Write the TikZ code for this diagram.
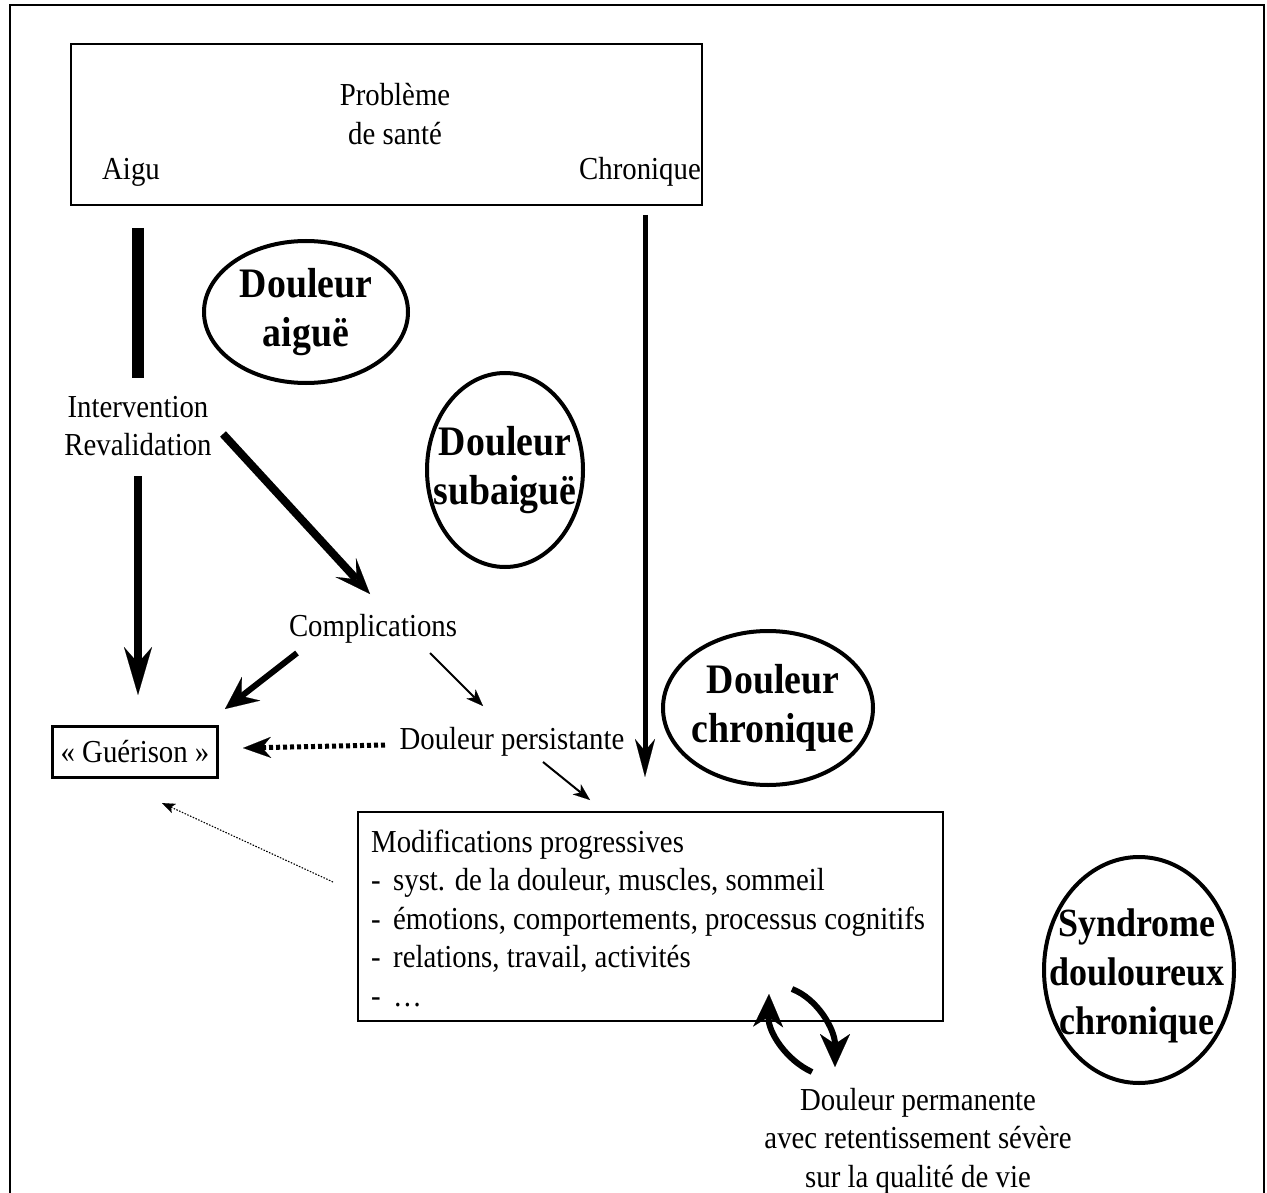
\documentclass[tikz,border=0pt]{standalone}
\usepackage{fontspec}
\setmainfont[FakeStretch=0.9]{Liberation Serif}
\usetikzlibrary{arrows.meta,shapes.geometric}
\newcommand{\regfont}{\fontsize{32}{38.5}\selectfont}
\newcommand{\bigbold}{\fontsize{42}{49}\selectfont\bfseries}
\newcommand{\synbold}{\fontsize{40}{49}\selectfont\bfseries}
\begin{document}
\begin{tikzpicture}[x=1pt,y=-1pt,
  txt/.style={font=\regfont, inner sep=0pt, align=center},
  boldtxt/.style={font=\bigbold, inner sep=0pt, align=center},
  framebox/.style={draw, line width=2.5pt, inner sep=0pt},
  ell/.style={line width=4pt},
  bar/.style={line width=12pt},
  heavy/.style={line width=8pt, -{Stealth[length=#1, width=28pt, inset=16pt, line width=0.1pt]}},
  medium/.style={line width=6pt, -{Stealth[length=33pt, width=30pt, inset=12pt, line width=0.1pt]}},
  chronarrow/.style={line width=5pt, -{Stealth[length=38pt, width=20pt, inset=12pt, line width=0.1pt]}},
  thin/.style={line width=2pt, -{Stealth[length=17pt, width=13pt, inset=5pt, line width=0.1pt]}},
  dotarrow/.style={line width=5pt, dash pattern=on 4pt off 3pt, -{Stealth[length=28pt, width=21pt, inset=9pt, line width=0.1pt]}},
  faintarrow/.style={line width=1.1pt, dash pattern=on 1.5pt off 1.5pt, -{Stealth[length=13pt, width=10pt, inset=3pt, line width=0.1pt]}},
  curvearrow/.style={line width=6pt, -{Stealth[length=33pt, width=30pt, inset=10pt, line width=0.1pt]}}
]
\useasboundingbox (0,0) rectangle (1267,1193);
% outer frame (open at the bottom)
\draw[line width=2.5pt] (10,1193) -- (10,5) -- (1264,5) -- (1264,1193);

% top box
\node[framebox, minimum width=631pt, minimum height=161pt] (topbox) at (386.5,124.5) {};
\node[txt] (prob) at (395,114) {Problème\\de santé};
\node[txt] (aigu) at (131,172) {Aigu};
\node[txt] (chron) at (640,172) {Chronique};

% other texts
\node[txt] (interv) at (138,426) {Intervention\\Revalidation};
\node[txt] (compl) at (373,629) {Complications};
\node[framebox, font=\regfont, minimum width=165pt, minimum height=51pt] (guer) at (135,752) {« Guérison »};
\node[txt] (pers) at (512,742) {Douleur persistante};
\node[framebox, minimum width=585pt, minimum height=209pt] (modbox) at (650.5,916.5) {};
\node[txt, align=left, anchor=west] (modif) at (371,918) {Modifications progressives\\
\makebox[22pt][l]{-}syst. de la douleur, muscles, sommeil\\
\makebox[22pt][l]{-}émotions, comportements, processus cognitifs\\
\makebox[22pt][l]{-}relations, travail, activités\\
\makebox[22pt][l]{-}…};
\node[txt] (perm) at (918,1141) {Douleur permanente\\avec retentissement sévère\\sur la qualité de vie};

% ellipses
\node[boldtxt] (eaig) at (306,312) {Douleur\\aiguë};
\draw[ell] (eaig.center) ellipse [x radius=102pt, y radius=71pt];
\node[boldtxt] (esub) at (505,470) {Douleur\\subaiguë};
\draw[ell] (esub.center) ellipse [x radius=78pt, y radius=97pt];
\node[boldtxt] (echr) at (773,708) {Douleur\\chronique};
\draw[ell] ([xshift=-5pt]echr.center) ellipse [x radius=105pt, y radius=77pt];
\node[boldtxt, font=\synbold] (esyn) at (1137,976) {Syndrome\\douloureux\\chronique};
\draw[ell] ([xshift=2pt, yshift=6pt]esyn.center) ellipse [x radius=95pt, y radius=113pt];

% connector end points
\coordinate (barA) at (138,228);
\coordinate (barB) at (138,378);
\coordinate (a1s) at (138,476);
\coordinate (a1e) at (138,695);
\coordinate (a2s) at (223,434);
\coordinate (a2e) at (370,594);
\coordinate (a3s) at (645,215);
\coordinate (a3e) at (645,777);
\coordinate (a4s) at (297,653);
\coordinate (a4e) at (225,709);
\coordinate (a5s) at (430,653);
\coordinate (a5e) at (483,706);
\coordinate (a6s) at (385,745);
\coordinate (a6e) at (243,748);
\coordinate (a7s) at (543,762);
\coordinate (a7e) at (590,800);
\coordinate (a8s) at (333,882);
\coordinate (a8e) at (162,803);
\coordinate (cls) at (812,1072);
\coordinate (cle) at (769,994);
\coordinate (crs) at (792,989);
\coordinate (cre) at (835,1067);

% connectors
\draw[bar] (barA) -- (barB);
\draw[heavy=48pt] (a1s) -- (a1e);
\draw[heavy=36pt] (a2s) -- (a2e);
\draw[chronarrow] (a3s) -- (a3e);
\draw[medium] (a4s) -- (a4e);
\draw[thin] (a5s) -- (a5e);
\draw[dotarrow] (a6s) -- (a6e);
\draw[thin] (a7s) -- (a7e);
\draw[faintarrow] (a8s) -- (a8e);
\draw[curvearrow] (cls) .. controls (786,1060) and (768,1032) .. (cle);
\draw[curvearrow] (crs) .. controls (818,999) and (835,1030) .. (cre);
\end{tikzpicture}
\end{document}
